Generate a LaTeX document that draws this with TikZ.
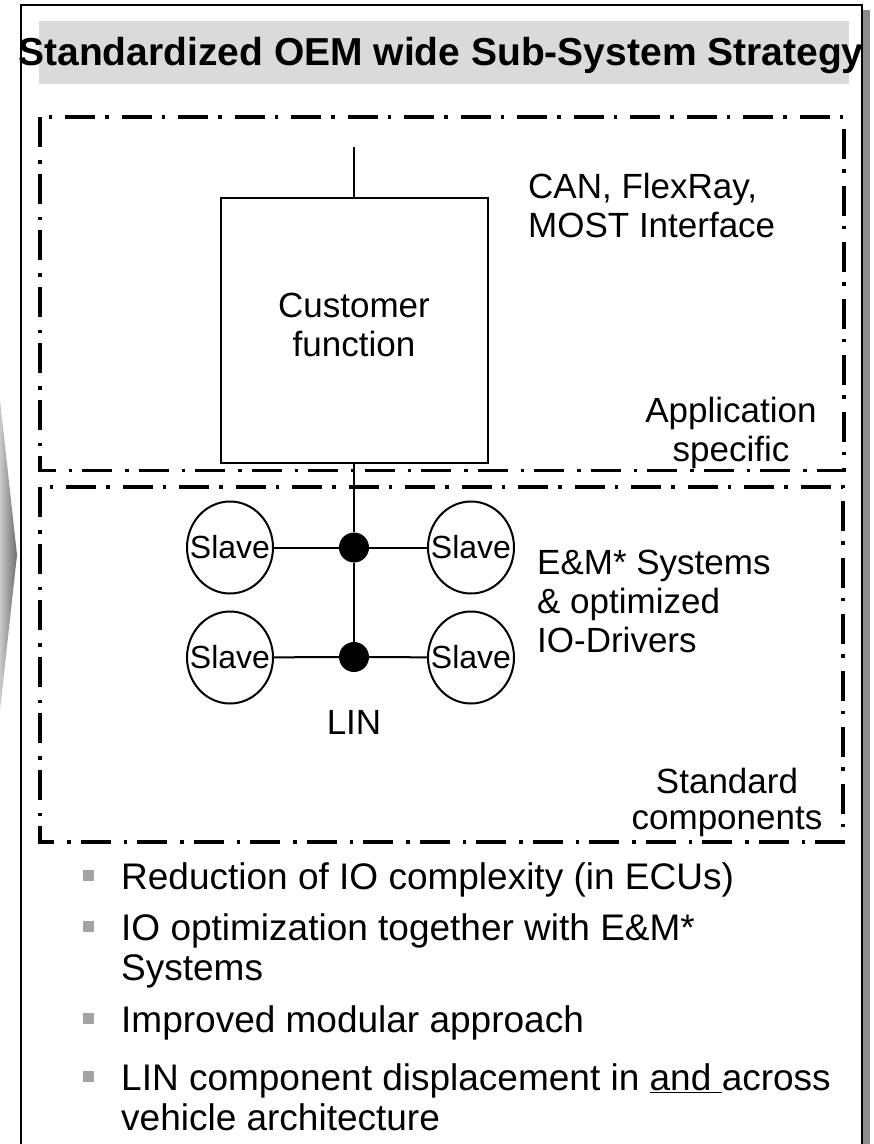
\documentclass[tikz,border=0pt]{standalone}
\usepackage{fontspec}
\setmainfont{Liberation Sans}
\usepackage{xcolor}
\usepackage{tikz}
\usetikzlibrary{shapes.geometric}
\definecolor{ssBand}{HTML}{DADADA}
\definecolor{ssBullet}{HTML}{A3A3A3}
\definecolor{ssShadow}{HTML}{8C8C8C}
\definecolor{ssWedgeLight}{HTML}{C8C8C8}
\definecolor{ssWedgeDark}{HTML}{6E6E6E}
\newcommand{\sstight}[1]{\makebox[0pt]{#1}}
\tikzset{
  ss diagram/.style={line cap=butt, line join=miter},
  ss frame/.style={draw=black, fill=white, line width=2pt},
  ss zone/.style={draw=black, line width=3.3pt,
    dash pattern=on 30pt off 13pt on 3.5pt off 10pt},
  ss box/.style={draw=black, line width=2pt, align=center, inner sep=0pt,
    minimum width=267pt, minimum height=265pt, text depth=12pt},
  ss slave/.style={ellipse, draw=black, line width=2pt, inner sep=0pt,
    minimum width=86pt, minimum height=92pt, font=\fontsize{32}{32}\selectfont},
  ss junction/.style={circle, fill=black, minimum size=30pt, inner sep=0pt},
  ss wire/.style={draw=black, line width=2pt},
  ss label/.style={font=\fontsize{35}{39}\selectfont, inner sep=0pt},
  ss title/.style={font=\fontsize{39}{39}\selectfont\bfseries, inner sep=0pt},
  ss bullet/.style={fill=ssBullet, minimum size=11pt, inner sep=0pt},
  ss item/.style={font=\fontsize{37}{40}\selectfont, align=left,
    inner sep=0pt, anchor=north west}
}
\begin{document}
\begin{tikzpicture}[ss diagram,x=1pt,y=-1pt]
\useasboundingbox (0,0) rectangle (874,1144);
\clip (0,0) rectangle (874,1144);
\fill[ssShadow] (863,10) rectangle (870,1150);
\draw[ss frame] (20.5,5) rectangle (862,1150);
\shade[left color=ssWedgeLight, right color=ssWedgeDark] (0,400) -- (17,555) -- (0,710) -- cycle;
\fill[ssBand] (39,21) rectangle (849,84);
\node[ss title,anchor=base] (title) at (441,65) {Standardized OEM wide Sub-System Strategy};
\draw[ss zone] (40,117) rectangle (844,470.5);
\draw[ss zone] (40,487) rectangle (843,842);
\node[ss box,ss label] (cust) at (354,330.5) {Customer\\function};
\coordinate (uplink) at (354,147);
\draw[ss wire] (cust.north) -- (uplink);
\node[ss label,align=left,anchor=north west] (bus) at (528,173) {CAN, FlexRay,\\MOST Interface};
\node[ss label,align=center,anchor=north] (appl) at (731,397) {Application\\specific};
\node[ss junction] (tap-u) at (354,547.5) {};
\node[ss junction] (tap-l) at (354,657) {};
\node[ss slave] (slave-ul) at (230,547.5) {\sstight{Slave}};
\node[ss slave] (slave-ur) at (471,547.5) {\sstight{Slave}};
\node[ss slave] (slave-ll) at (230,657.5) {\sstight{Slave}};
\node[ss slave] (slave-lr) at (471,657.5) {\sstight{Slave}};
\draw[ss wire] (cust.south) -- (tap-u) -- (tap-l);
\draw[ss wire] (slave-ul) -- (tap-u) -- (slave-ur);
\draw[ss wire] (slave-ll) -- (tap-l) -- (slave-lr);
\node[ss label,anchor=north] (lin) at (354,710) {LIN};
\node[ss label,align=left,anchor=north west] (em) at (537,550) {E\&M* Systems\\\& optimized\\IO-Drivers};
\node[ss label,align=center,anchor=north,font=\fontsize{35}{36}\selectfont] (std) at (727,768) {Standard\\components};
\foreach \n/\base/\txt in {1/889/{Reduction of IO complexity (in ECUs)},
    2/940/{IO optimization together with E\&M*\\Systems},
    3/1032/{Improved modular approach},
    4/1090/{LIN component displacement in \underline{and\ }across\\vehicle architecture}}{
  \node[ss bullet] (mark-\n) at (88.5,\base-13.5) {};
  \node[ss item] (item-\n) at (121,\base-27) {\txt};
}
\end{tikzpicture}
\end{document}
